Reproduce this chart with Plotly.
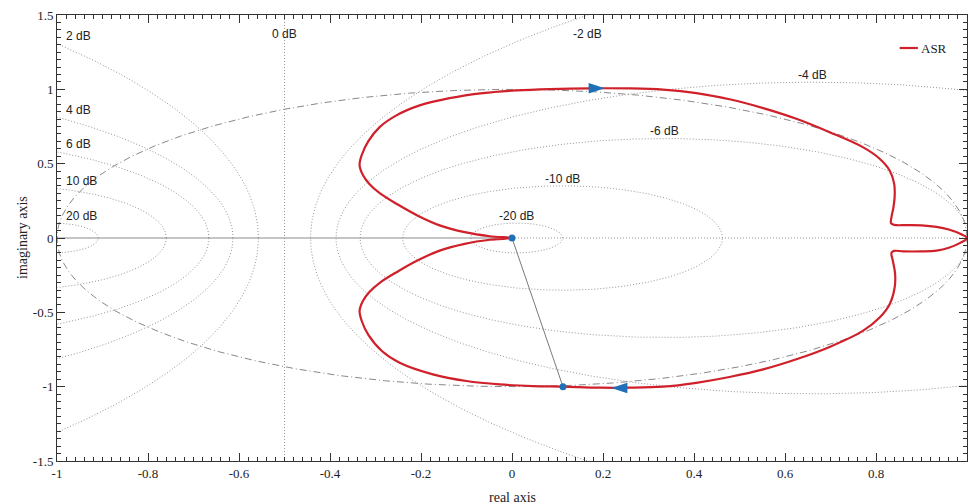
import numpy as np
import plotly.graph_objects as go

# ---------------- data ----------------
# magnitude contours (dB) of the closed-loop M-circles
m_levels_pos = [2, 4, 6, 10, 20]
m_levels_neg = [-2, -4, -6, -10, -20]
m_level_zero = 0

# ASR locus (traversed clockwise from the origin)
asr_x = [0.0, -0.049, -0.104, -0.159, -0.207, -0.251, -0.290, -0.314, -0.328, -0.335,
         -0.330, -0.316, -0.291, -0.254, -0.203, -0.137, -0.064, 0.010, 0.083, 0.171,
         0.259, 0.332, 0.405, 0.478, 0.552, 0.625, 0.698, 0.771, 0.808, 0.830,
         0.840, 0.841, 0.838, 0.834, 0.833, 0.840, 0.870, 0.900, 0.933, 0.960,
         0.985, 1.0,
         0.985, 0.960, 0.933, 0.900, 0.860, 0.840, 0.834, 0.837, 0.842, 0.841,
         0.830, 0.808, 0.771, 0.698, 0.625, 0.552, 0.478, 0.405, 0.332, 0.259,
         0.193, 0.112, 0.046, -0.027, -0.100, -0.174, -0.247, -0.286, -0.316, -0.330,
         -0.335, -0.328, -0.314, -0.290, -0.251, -0.207, -0.159, -0.104, -0.049, 0.0]
asr_y = [0.0, 0.012, 0.039, 0.085, 0.150, 0.225, 0.300, 0.365, 0.425, 0.490,
         0.560, 0.650, 0.746, 0.825, 0.892, 0.941, 0.975, 0.993, 1.002, 1.007,
         1.006, 0.998, 0.975, 0.933, 0.874, 0.802, 0.712, 0.611, 0.533, 0.454,
         0.364, 0.280, 0.200, 0.140, 0.100, 0.088, 0.087, 0.085, 0.075, 0.057,
         0.028, 0.0,
         -0.033, -0.066, -0.085, -0.090, -0.090, -0.087, -0.100, -0.153, -0.243, -0.333,
         -0.445, -0.535, -0.625, -0.733, -0.816, -0.884, -0.935, -0.974, -1.000, -1.007,
         -1.007, -1.000, -0.996, -0.985, -0.962, -0.917, -0.839, -0.760, -0.650, -0.560,
         -0.490, -0.425, -0.365, -0.300, -0.225, -0.150, -0.085, -0.039, -0.012, 0.0]

# direction arrows on the locus
arrow_x = [0.204, 0.218]
arrow_y = [1.007, -1.009]
arrow_angle = [90, 270]

# vector from origin to a point of the locus
vec_x = [0.0, 0.112]
vec_y = [0.0, -1.0]

# reference lines
neg_axis_x = [-1.0, 0.0]
pos_axis_x = [0.0, 1.0]

x_ticks = [-1, -0.8, -0.6, -0.4, -0.2, 0, 0.2, 0.4, 0.6, 0.8, 1]
x_ticktext = ["-1", "-0.8", "-0.6", "-0.4", "-0.2", "0", "0.2", "0.4", "0.6", "0.8", "1"]
y_ticks = [-1.5, -1, -0.5, 0, 0.5, 1, 1.5]
y_ticktext = ["-1.5", "-1", "-0.5", "0", "0.5", "1", "1.5"]

# ---------------- styles ----------------
GRID = "#959595"
RED = "#d0202a"
BLUE = "#1f70b8"
AX = "#333333"
SERIF = "Liberation Serif, Times New Roman, serif"
SANS = "Liberation Sans, Arial, sans-serif"
DOT = "1px,2px"

fig = go.Figure()
theta = np.linspace(0, 2 * np.pi, 1441)


def m_circle(db):
    M = 10 ** (db / 20.0)
    c = -M ** 2 / (M ** 2 - 1)
    r = M / abs(M ** 2 - 1)
    return c, r


annotations = []
for db in m_levels_pos + m_levels_neg:
    c, r = m_circle(db)
    fig.add_trace(go.Scatter(x=c + r * np.cos(theta), y=r * np.sin(theta), mode="lines",
                             line=dict(color=GRID, width=1, dash=DOT),
                             hoverinfo="skip", showlegend=False))
    if db > 0:
        yl = np.sqrt(r ** 2 - (-1 - c) ** 2) + 0.05
        annotations.append(dict(x=-1, y=yl, text=f"{db} dB", xanchor="left", xshift=7,
                                yanchor="middle", showarrow=False))
    elif r > 1.5:
        xl = c - np.sqrt(r ** 2 - 1.5 ** 2)
        annotations.append(dict(x=xl, y=1.375, text=f"{db} dB", xanchor="center",
                                yanchor="middle", showarrow=False))
    else:
        annotations.append(dict(x=c, y=r + 0.048, text=f"{db} dB", xanchor="center",
                                yanchor="middle", showarrow=False))

# 0 dB line (Re = -1/2)
fig.add_trace(go.Scatter(x=[-0.5, -0.5], y=[-1.5, 1.5], mode="lines",
                         line=dict(color=GRID, width=1, dash=DOT), hoverinfo="skip", showlegend=False))
annotations.append(dict(x=-0.5, y=1.375, text=f"{m_level_zero} dB", xanchor="center",
                        yanchor="middle", showarrow=False))

# unit circle
fig.add_trace(go.Scatter(x=np.cos(theta), y=np.sin(theta), mode="lines",
                         line=dict(color="#888888", width=1, dash="7px,3px,1px,3px"),
                         hoverinfo="skip", showlegend=False))

# real axis pieces
fig.add_trace(go.Scatter(x=neg_axis_x, y=[0, 0], mode="lines",
                         line=dict(color="#8c8c8c", width=1.2), hoverinfo="skip", showlegend=False))
fig.add_trace(go.Scatter(x=pos_axis_x, y=[0, 0], mode="lines",
                         line=dict(color=GRID, width=1, dash=DOT), hoverinfo="skip", showlegend=False))

# ASR locus
fig.add_trace(go.Scatter(x=asr_x, y=asr_y, mode="lines", name="ASR",
                         line=dict(color=RED, width=2.2, shape="spline", smoothing=1.0),
                         showlegend=False))

# vector
fig.add_trace(go.Scatter(x=vec_x, y=vec_y, mode="lines+markers",
                         line=dict(color="#7a7a7a", width=1),
                         marker=dict(color=BLUE, size=7), showlegend=False))

# arrows
fig.add_trace(go.Scatter(x=arrow_x, y=arrow_y, mode="markers",
                         marker=dict(symbol="arrow", angle=arrow_angle, size=17, color=BLUE,
                                     line=dict(width=0)),
                         showlegend=False))

for a in annotations:
    a["font"] = dict(family=SANS, size=12, color="#222222")

# legend (manual, small)
fig.add_shape(type="line", xref="paper", yref="paper", x0=0.926, x1=0.946, y0=0.926, y1=0.926,
              line=dict(color=RED, width=2.2))
annotations.append(dict(xref="paper", yref="paper", x=0.947, y=0.926, text="ASR",
                        xanchor="left", yanchor="middle", showarrow=False,
                        font=dict(family=SERIF, size=13, color="#222222")))

# axis titles
annotations.append(dict(xref="paper", yref="paper", x=0.5, y=-0.081, text="real axis",
                        xanchor="center", yanchor="middle", showarrow=False,
                        font=dict(family=SERIF, size=14, color="#222222")))
annotations.append(dict(xref="paper", yref="paper", x=0, xshift=-35, y=0.5, text="imaginary axis",
                        textangle=-90, xanchor="center", yanchor="middle", showarrow=False,
                        font=dict(family=SERIF, size=14, color="#222222")))

axis_common = dict(showline=True, linecolor=AX, linewidth=1, mirror="ticks", ticks="inside",
                   ticklen=8, tickwidth=1, tickcolor=AX, showgrid=False, zeroline=False,
                   tickfont=dict(family=SERIF, size=13, color="#222222"))

fig.update_layout(
    width=968, height=504,
    margin=dict(l=57, r=1, t=15, b=43),
    paper_bgcolor="white", plot_bgcolor="white",
    xaxis=dict(range=[-1, 1], tickvals=x_ticks, ticktext=x_ticktext,
               minor=dict(ticks="inside", ticklen=4, dtick=0.02, tickcolor=AX), **axis_common),
    yaxis=dict(range=[-1.5, 1.5], tickvals=y_ticks, ticktext=y_ticktext,
               minor=dict(ticks="inside", ticklen=4, dtick=0.05, tickcolor=AX), **axis_common),
    annotations=annotations,
    showlegend=False,
)

fig.write_html("out.html")
